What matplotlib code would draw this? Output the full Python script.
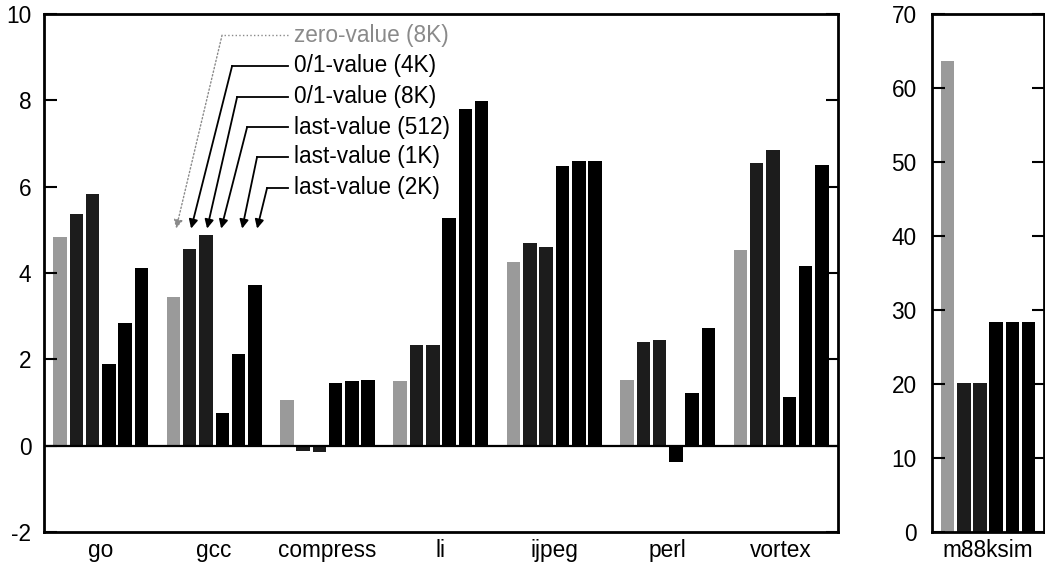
import matplotlib
matplotlib.use("Agg")
import matplotlib.pyplot as plt
import numpy as np

plt.rcParams['font.family'] = ['Liberation Sans', 'DejaVu Sans']

# benchmarks and the six predictor configurations
benchmarks = ['go', 'gcc', 'compress', 'li', 'ijpeg', 'perl', 'vortex']
predictors = ['zero-value (8K)', '0/1-value (4K)', '0/1-value (8K)',
              'last-value (512)', 'last-value (1K)', 'last-value (2K)']

# values per benchmark, one list per predictor
zero_8k = [4.84, 3.44, 1.05, 1.49, 4.25, 1.53, 4.53]
zo_4k = [5.37, 4.55, -0.13, 2.34, 4.69, 2.40, 6.54]
zo_8k = [5.83, 4.87, -0.15, 2.34, 4.61, 2.45, 6.85]
last_512 = [1.90, 0.76, 1.45, 5.28, 6.47, -0.39, 1.12]
last_1k = [2.85, 2.13, 1.49, 7.80, 6.60, 1.23, 4.17]
last_2k = [4.12, 3.73, 1.53, 7.99, 6.60, 2.72, 6.51]

# m88ksim plotted on its own scale
m88_name = 'm88ksim'
m88_values = [63.6, 20.1, 20.1, 28.4, 28.4, 28.4]

series = [zero_8k, zo_4k, zo_8k, last_512, last_1k, last_2k]
colors = ['#9a9a9a', '#1c1c1c', '#1c1c1c', 'black', 'black', 'black']

step = 0.1436
width = 0.119
offsets = (np.arange(6) - 2.5) * step
fs = 16.3

fig = plt.figure(figsize=(10.45, 5.62), dpi=100)
ax = fig.add_axes([0.0421, 0.0534, 0.7597, 0.9216])
ax2 = fig.add_axes([0.8919, 0.0534, 0.1072, 0.9216])

x = np.arange(len(benchmarks))
for vals, off, col in zip(series, offsets, colors):
    ax.bar(x + off, vals, width, color=col, linewidth=0)
ax.axhline(0, color='black', lw=1.6)

ax.set_xlim(-0.5, 6.5)
ax.set_ylim(-2, 10)
ax.set_yticks(range(-2, 11, 2))
ax.set_yticklabels([str(v) for v in range(-2, 11, 2)])
ax.set_xticks(x)
ax.set_xticklabels(benchmarks)
ax.tick_params(axis='y', direction='in', length=9, width=1.5, labelsize=fs,
               pad=9, right=True)
ax.tick_params(axis='x', length=0, labelsize=fs, pad=5)

for a in (ax, ax2):
    for s in a.spines.values():
        s.set_linewidth(2)

# legend drawn as labels with arrows pointing at the gcc bars
text_x = 1.70
line_start = 1.655
text_y = [9.51, 8.80, 8.08, 7.38, 6.69, 5.97]
bend_x = [1.070, 1.159, 1.203, 1.291, 1.379, 1.467]
tip_x = [0.665, 0.797, 0.938, 1.062, 1.247, 1.379]
tip_y = 5.03
for i, name in enumerate(predictors):
    if i == 0:
        c, ls, lw = '#8a8a8a', ':', 1.0
    else:
        c, ls, lw = 'black', '-', 1.3
    ax.text(text_x, text_y[i], name, fontsize=fs, color=c, va='center', ha='left')
    ax.plot([line_start, bend_x[i]], [text_y[i], text_y[i]], color=c, ls=ls, lw=lw)
    ax.annotate('', xy=(tip_x[i], tip_y), xytext=(bend_x[i], text_y[i]),
                arrowprops=dict(arrowstyle='-|>', color=c, lw=lw, ls=ls,
                                mutation_scale=13, shrinkA=0, shrinkB=0))

# m88ksim panel
for v, off, col in zip(m88_values, offsets, colors):
    ax2.bar(off, v, width, color=col, linewidth=0)
ax2.set_xlim(-0.5, 0.5)
ax2.set_ylim(0, 70)
ax2.set_yticks(range(0, 71, 10))
ax2.set_xticks([0])
ax2.set_xticklabels([m88_name])
ax2.tick_params(axis='y', direction='in', length=9, width=1.5, labelsize=fs,
                pad=11, right=True)
ax2.tick_params(axis='x', length=0, labelsize=fs, pad=5)

fig.savefig('out.png', dpi=100)
